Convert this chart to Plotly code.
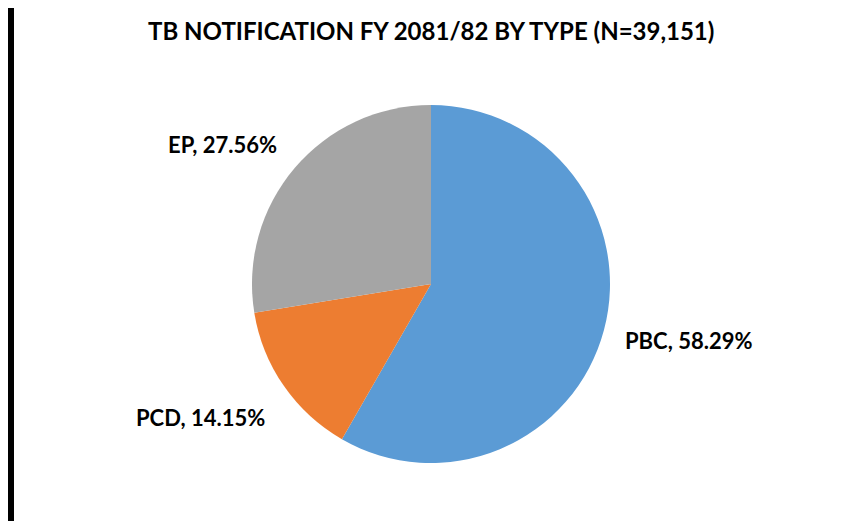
import math

import plotly.graph_objects as go

# TB notification by type, share of total (N=39,151)
types = ["PBC", "PCD", "EP"]
shares = [58.29, 14.15, 27.56]
colors = ["#5B9BD5", "#ED7D31", "#A5A5A5"]

W, H = 855, 521
ml, mr, mt, mb = 244, 253, 97, 66
pw, ph = W - ml - mr, H - mt - mb

fig = go.Figure(
    go.Pie(
        labels=types,
        values=shares,
        sort=False,
        direction="clockwise",
        rotation=0,
        marker=dict(colors=colors, line=dict(width=0)),
        textinfo="none",
        hoverinfo="label+value",
        showlegend=False,
    )
)


def px_x(x):
    return (x - ml) / pw


def px_y(y):
    return 1 - (y - mt) / ph


# data labels placed just outside each slice, at the slice's mid angle
cx, cy, radius, gap = 431, 284, 179, 20
total = sum(shares)
start = 0.0
annotations = []
for name, val in zip(types, shares):
    mid = (start + val / 2) / total * 2 * math.pi
    start += val
    dx, dy = math.sin(mid), -math.cos(mid)  # dy points down the screen
    x = cx + (radius + gap) * dx
    y = cy + (radius + gap) * dy
    annotations.append(
        dict(
            x=px_x(x), y=px_y(y), xref="paper", yref="paper",
            xshift=-8, yshift=3,
            text=f"<b>{name}, {val:.2f}%</b>", showarrow=False,
            xanchor="left" if dx > 0 else "right",
            yanchor="middle" if abs(dy) < 0.4 else ("top" if dy > 0 else "bottom"),
            font=dict(family="Lato", size=22, color="#000000"),
        )
    )

fig.update_layout(
    width=W,
    height=H,
    margin=dict(l=ml, r=mr, t=mt, b=mb),
    paper_bgcolor="white",
    plot_bgcolor="white",
    title=dict(
        text="<b>TB NOTIFICATION FY 2081/82 BY TYPE (N=39,151)</b>",
        x=0.495,
        xanchor="center",
        y=1 - 24 / H,
        yanchor="middle",
        font=dict(family="Lato", size=24, color="#000000"),
    ),
    annotations=annotations,
    shapes=[
        dict(type="rect", xref="paper", yref="paper",
             x0=px_x(0), x1=px_x(6), y0=px_y(0), y1=px_y(H),
             fillcolor="black", line=dict(width=0)),
        dict(type="line", xref="paper", yref="paper",
             x0=px_x(854), x1=px_x(854), y0=px_y(0), y1=px_y(H),
             line=dict(color="#BFBFBF", width=1)),
    ],
)

fig.write_html("out.html")
